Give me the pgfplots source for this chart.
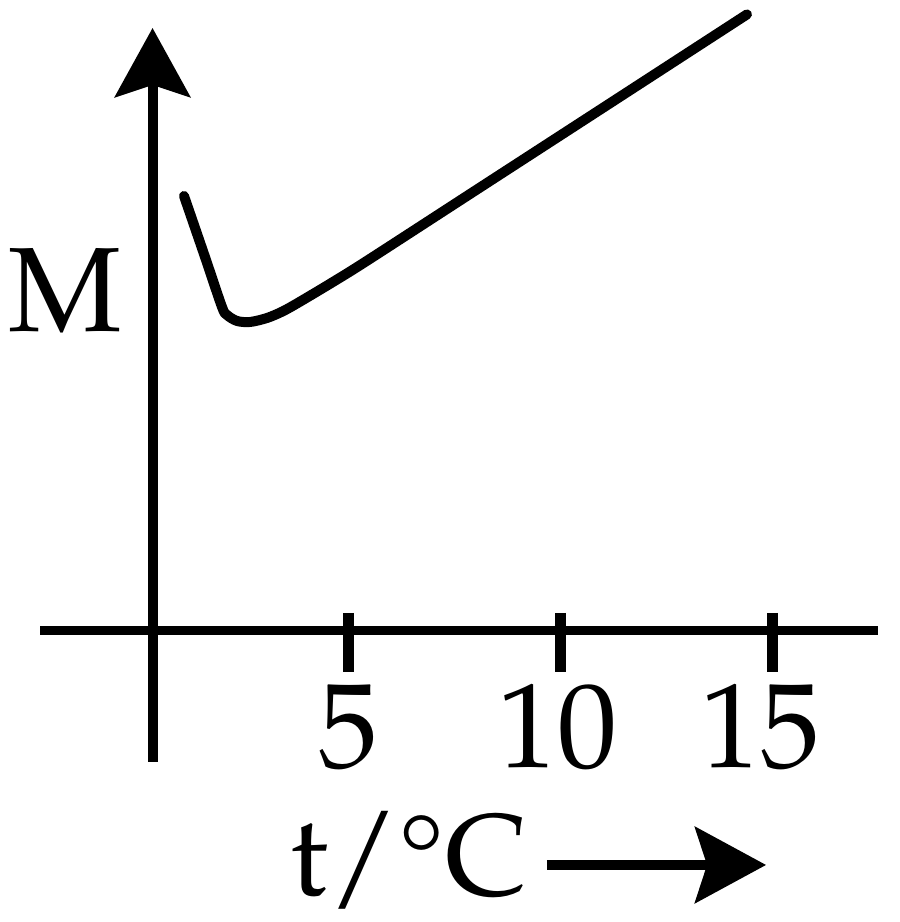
\documentclass[border=0pt]{standalone}
\usepackage[T1]{fontenc}
\usepackage{mathpazo}
\usepackage{pgfplots}
\pgfplotsset{compat=1.18}
\usetikzlibrary{arrows.meta}

\begin{document}
\begin{tikzpicture}
\begin{axis}[
    scale only axis,
    width=225pt, height=230.5pt,
    xmin=-3.208, xmax=18.019,
    ymin=-6.875, ymax=14.870,
    hide axis, clip=false,
]
% axes
\draw[line width=2.4pt] (axis cs:-2.264,0) -- (axis cs:17.5,0);
\draw[line width=2.5pt, -{Stealth[length=17.25pt, width=18.75pt, inset=3pt]}]
    (axis cs:0.39,-3.10) -- (axis cs:0.39,14.21);
% ticks
\draw[line width=2.75pt] (axis cs:5,0.413) -- (axis cs:5,-0.979);
\draw[line width=2.75pt] (axis cs:10,0.413) -- (axis cs:10,-0.979);
\draw[line width=2.75pt] (axis cs:15,0.413) -- (axis cs:15,-0.979);
\node[anchor=base, font=\fontsize{30}{32}\selectfont] at (axis cs:5.02,-3.24) {5};
\node[anchor=base, font=\fontsize{30}{32}\selectfont] at (axis cs:9.93,-3.24) {10};
\node[anchor=base, font=\fontsize{30}{32}\selectfont] at (axis cs:14.72,-3.24) {15};
\node[anchor=base, font=\fontsize{30}{32}\selectfont] at (axis cs:-1.663,7.04) {M};
\node[anchor=base west, inner sep=0pt, font=\fontsize{29}{31}\selectfont] at (axis cs:3.63,-6.24) {t/\textdegree C};
\draw[line width=2.3pt, -{Stealth[length=17.75pt, width=19pt, inset=3pt]}]
    (axis cs:9.69,-5.53) -- (axis cs:14.86,-5.53);

% M against t
\addplot[line width=2.5pt, line cap=round, line join=round, smooth, tension=0.5]
coordinates {
    (1.132,10.248)
    (1.627,8.809)
    (2.028,7.630)
    (2.146,7.441)
    (2.382,7.300)
    (2.689,7.276)
    (3.090,7.370)
    (3.467,7.530)
    (3.868,7.755)
    (4.646,8.220)
    (5.448,8.720)
    (8.000,10.374)
    (11.000,12.318)
    (14.410,14.530)
};
\end{axis}
\pgfresetboundingbox
\useasboundingbox (current axis.south west) rectangle (current axis.north east);
\end{tikzpicture}
\end{document}
